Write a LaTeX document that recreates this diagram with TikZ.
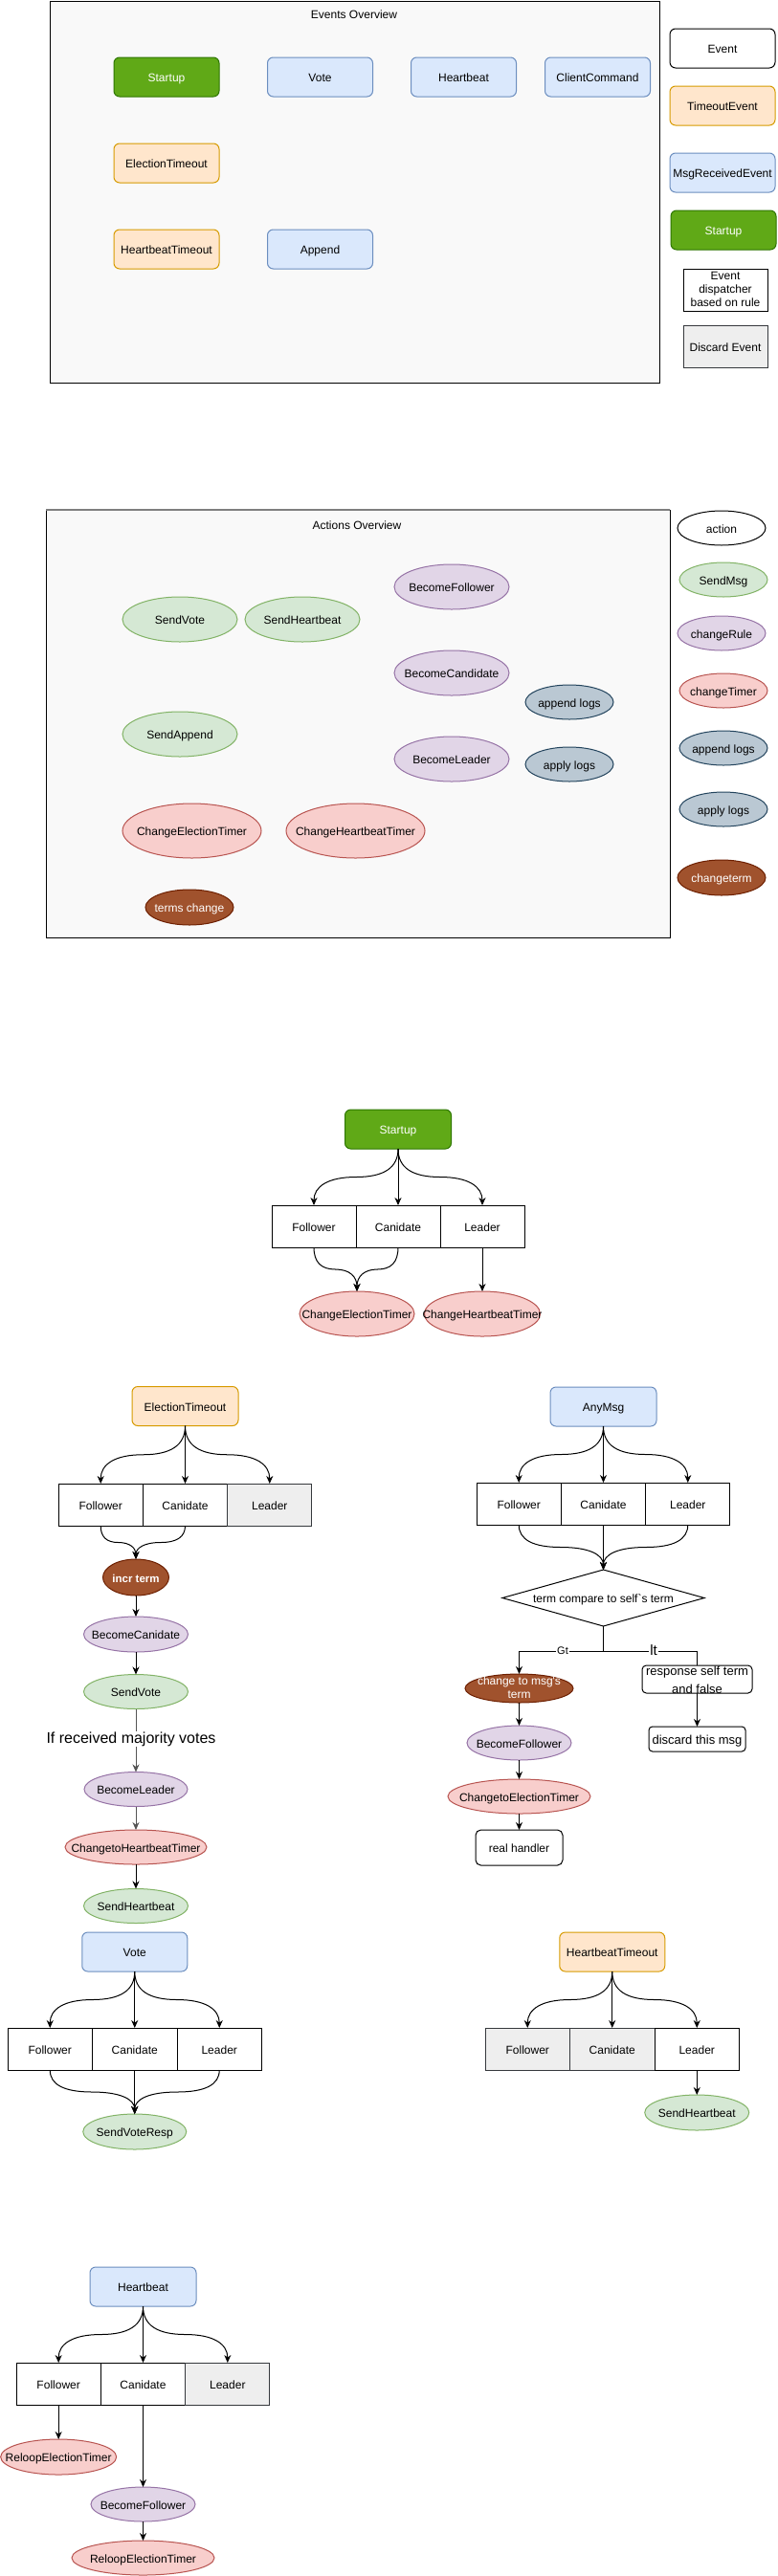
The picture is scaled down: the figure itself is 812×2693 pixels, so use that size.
\documentclass[tikz,border=0pt]{standalone}
\usepackage{fontspec}
\setmainfont{Liberation Sans}
\usetikzlibrary{shapes.geometric,arrows.meta,calc}
\definecolor{fiGreen}{HTML}{60A917}\definecolor{stGreen}{HTML}{2D7600}
\definecolor{fiBlue}{HTML}{DAE8FC}\definecolor{stBlue}{HTML}{6C8EBF}
\definecolor{fiOrange}{HTML}{FFE6CC}\definecolor{stOrange}{HTML}{D79B00}
\definecolor{fiLGreen}{HTML}{D5E8D4}\definecolor{stLGreen}{HTML}{82B366}
\definecolor{fiPurple}{HTML}{E1D5E7}\definecolor{stPurple}{HTML}{9673A6}
\definecolor{fiRed}{HTML}{F8CECC}\definecolor{stRed}{HTML}{B85450}
\definecolor{fiSlate}{HTML}{BAC8D3}\definecolor{stSlate}{HTML}{23445D}
\definecolor{fiBrown}{HTML}{A0522D}\definecolor{stBrown}{HTML}{6D1F00}
\definecolor{fiGray}{HTML}{EEEEEE}\definecolor{stGray}{HTML}{36393D}
\definecolor{fiFrame}{HTML}{F9F9F9}
\definecolor{lnGray}{HTML}{555555}
\definecolor{topGray}{HTML}{7F7F7F}
\newcommand\fsz[2]{\fontsize{#1}{#2}\selectfont}
\newcommand\zw[1]{\makebox[0pt]{#1}}
\newcommand\ml[3]{\makebox[0pt]{\raisebox{#1}[0pt][0pt]{#2\begin{tabular}{@{}c@{}}#3\end{tabular}}}}
\newcommand\cv[3][]{%
  \path (#2) coordinate (cvS) (#3) coordinate (cvT);
  \path ($(cvS)!.5!(cvT)$) coordinate (cvM);
  \draw[arr,#1] (cvS) .. controls ($(cvS)!2/3!(cvS|-cvM)$) and ($(cvM)!2/3!(cvS|-cvM)$) .. (cvM)
     .. controls ($(cvM)!2/3!(cvT|-cvM)$) and ($(cvT)!2/3!(cvT|-cvM)$) .. (cvT);}
\tikzset{
  nb0/.style={inner sep=0pt, outer sep=0pt, line width=1pt, font=\fsz{12}{14}},
  nb/.style={nb0, text height=10pt, text depth=0pt},
  sz/.style 2 args={minimum width=#1, minimum height=#2},
  rr/.style={nb, rectangle, rounded corners=6pt, sz={110}{41}},
  evGreen/.style={rr, draw=stGreen, fill=fiGreen, text=white},
  evBlue/.style={rr, draw=stBlue, fill=fiBlue},
  evOrange/.style={rr, draw=stOrange, fill=fiOrange},
  evWhite/.style={rr, draw=black, fill=white},
  elbase/.style={nb, ellipse},
  acGreen/.style={elbase, draw=stLGreen, fill=fiLGreen},
  acPurple/.style={elbase, draw=stPurple, fill=fiPurple},
  acRed/.style={elbase, draw=stRed, fill=fiRed},
  acSlate/.style={elbase, draw=stSlate, fill=fiSlate},
  acBrown/.style={elbase, draw=stBrown, fill=fiBrown, text=white},
  acWhite/.style={elbase, draw=black, fill=white},
  cellW/.style={nb, rectangle, draw=black, fill=white, sz={88.33}{44}},
  cellG/.style={cellW, draw=stGray, fill=fiGray},
  wbox/.style={nb, rectangle, draw=black, fill=white},
  panel/.style={nb0, rectangle, draw=black, fill=fiFrame},
  lblW/.style={fill=white, inner sep=1pt, outer sep=0pt},
  plain/.style={line width=1pt, draw=black},
  arr/.style={line width=1pt, draw=black, -{Stealth[length=8pt,width=7pt,inset=2.5pt]}},
}
\begin{document}
\begin{tikzpicture}[x=1pt,y=-1pt]
\useasboundingbox (0,0) rectangle (812,2693);
\fill[white] (0,0) rectangle (812,2693);

% ---------------- Events overview
\node[panel, sz={637}{399}] (evFrame) at (370.5,200.5) {};
\node[nb] (evTitle) at (370,14) {Events Overview};
\node[evGreen] (evStartup) at (174,80.5) {Startup};
\node[evBlue] (evVote) at (334.5,80.5) {Vote};
\node[evBlue] (evHeartbeat) at (484.5,80.5) {Heartbeat};
\node[evBlue] (evClient) at (624.5,80.5) {ClientCommand};
\node[evOrange] (evElection) at (174,170.5) {ElectionTimeout};
\node[evOrange] (evHBTimeout) at (174,260.5) {HeartbeatTimeout};
\node[evBlue] (evAppend) at (334.5,260.5) {Append};
\node[evWhite] (lgEvent) at (755,50.5) {Event};
\node[evOrange] (lgTimeout) at (755,110.5) {TimeoutEvent};
\node[evBlue] (lgMsg) at (755,180.5) {MsgReceivedEvent};
\node[evGreen] (lgStartup) at (756,240.5) {Startup};
\node[nb0, rectangle, draw=black, fill=white, sz={88}{44}] (lgDispatch) at (758,303) {\ml{-3.3pt}{\fsz{12}{14}}{Event\\dispatcher\\based on rule}};
\node[nb, rectangle, draw=stGray, fill=fiGray, sz={88}{44}] (lgDiscard) at (758,362) {Discard Event};

% ---------------- Actions overview
\node[panel, sz={652}{447}] (acFrame) at (374,756.5) {};
\draw[draw=topGray, line width=1.5pt] (acFrame.north west) -- (acFrame.north east);
\node[nb] (acTitle) at (373,548) {Actions Overview};
\node[acPurple, sz={120}{47}] (acBF) at (472,613.5) {\zw{BecomeFollower}};
\node[acGreen, sz={120}{47}] (acSV) at (188,647.5) {\zw{SendVote}};
\node[acGreen, sz={120}{47}] (acSH) at (316,647.5) {\zw{SendHeartbeat}};
\node[acPurple, sz={120}{47}] (acBC) at (472,703.5) {\zw{BecomeCandidate}};
\node[acSlate, sz={92}{36}] (acAL) at (595,734) {\zw{append logs}};
\node[acGreen, sz={120}{47}] (acSA) at (188,767.5) {\zw{SendAppend}};
\node[acPurple, sz={120}{47}] (acBL) at (472,793.5) {\zw{BecomeLeader}};
\node[acSlate, sz={92}{36}] (acAP) at (595,799) {\zw{apply logs}};
\node[acRed, sz={145}{57}] (acCET) at (200.5,868.5) {\zw{ChangeElectionTimer}};
\node[acRed, sz={145}{57}] (acCHT) at (371.5,868.5) {\zw{ChangeHeartbeatTimer}};
\node[acBrown, sz={92}{37}] (acTC) at (198,948.5) {\zw{terms change}};
\node[acWhite, sz={92}{36}] (laAction) at (754,552) {\zw{action}};
\node[acGreen, sz={92}{36}] (laSend) at (756,606) {\zw{SendMsg}};
\node[acPurple, sz={92}{36}] (laRule) at (754,662) {\zw{changeRule}};
\node[acRed, sz={92}{36}] (laTimer) at (756,722) {\zw{changeTimer}};
\node[acSlate, sz={92}{36}] (laAppend) at (756,782) {\zw{append logs}};
\node[acSlate, sz={92}{36}] (laApply) at (756,846) {\zw{apply logs}};
\node[acBrown, sz={92}{37}] (laTerm) at (754,917.5) {\zw{changeterm}};

% ---------------- Startup flow
\node[evGreen, sz={111}{41}] (suStart) at (416,1180.5) {Startup};
\node[cellW, sz={88}{44}] (suF) at (328,1282) {Follower};
\node[cellW, sz={88}{44}] (suC) at (416,1282) {Canidate};
\node[cellW, sz={88}{44}] (suL) at (504,1282) {Leader};
\node[acRed, sz={120}{47}] (suCET) at (373,1373.5) {\zw{ChangeElectionTimer}};
\node[acRed, sz={121}{47}] (suCHT) at (504,1373.5) {\zw{ChangeHeartbeatTimer}};
\cv{suStart.south}{suF.north}
\draw[arr] (suStart.south) -- (suC.north);
\cv{suStart.south}{suL.north}
\cv{suF.south}{suCET.north}
\cv{suC.south}{suCET.north}
\draw[arr] (suL.south) -- (suCHT.north);

% ---------------- ElectionTimeout flow
\node[evOrange, sz={111}{41}] (etTop) at (193.5,1470) {ElectionTimeout};
\node[cellW] (etF) at (105.2,1573) {Follower};
\node[cellW] (etC) at (193.5,1573) {Canidate};
\node[cellG] (etL) at (281.8,1573) {Leader};
\node[acBrown, sz={69}{38}, font=\fsz{11.5}{14}\bfseries] (etIncr) at (142,1649) {\zw{incr term}};
\node[acPurple, sz={109}{37}] (etBC) at (142,1708.5) {\zw{BecomeCanidate}};
\node[acGreen, sz={109}{36}] (etSV) at (142,1768.5) {\zw{SendVote}};
\node[acPurple, sz={108}{36}] (etBL) at (142,1870.5) {\zw{BecomeLeader}};
\node[acRed, sz={148}{36}] (etCHT) at (142,1931) {\zw{ChangetoHeartbeatTimer}};
\node[acGreen, sz={109}{36}] (etSH) at (142,1992.5) {\zw{SendHeartbeat}};
\cv{etTop.south}{etF.north}
\draw[arr] (etTop.south) -- (etC.north);
\cv{etTop.south}{etL.north}
\cv{etF.south}{etIncr.north}
\cv{etC.south}{etIncr.north}
\draw[arr] (etIncr.south) -- (etBC.north);
\draw[arr] (etBC.south) -- (etSV.north);
\draw[arr, draw=lnGray] (etSV.south) -- (etBL.north);
\node[lblW, font=\fsz{16}{19}] (etMaj) at (137,1818) {If received majority votes};
\draw[arr, draw=lnGray] (etBL.south) -- (etCHT.north);
\draw[arr] (etCHT.south) -- (etSH.north);

% ---------------- AnyMsg flow
\node[evBlue, sz={111}{41}] (amTop) at (630.5,1470.5) {AnyMsg};
\node[cellW] (amF) at (542.2,1572) {Follower};
\node[cellW] (amC) at (630.5,1572) {Canidate};
\node[cellW] (amL) at (718.8,1572) {Leader};
\node[nb, diamond, draw=black, fill=white, sz={211}{59}] (amD) at (630.5,1670.5) {\zw{term compare to self\textasciigrave s term}};
\coordinate (amSplit) at (630.5,1726);
\node[acBrown, text height=0pt, sz={113}{30}] (amGt) at (542.5,1765) {\ml{-4pt}{\fsz{12}{14}}{change to msg\textquotesingle s\\term}};
\node[acPurple, sz={109}{36}] (amBF) at (542.5,1822) {\zw{BecomeFollower}};
\node[acRed, sz={149}{36}] (amCET) at (542.5,1878) {\zw{ChangetoElectionTimer}};
\node[wbox, rounded corners=5.5pt, sz={91}{37}] (amReal) at (542.5,1931.5) {real handler};
\node[wbox, rounded corners=3.8pt, sz={101}{26}, font=\fsz{13}{16}] (amDisc) at (728.5,1818) {discard this msg};
\cv{amTop.south}{amF.north}
\draw[arr] (amTop.south) -- (amC.north);
\cv{amTop.south}{amL.north}
\cv{amF.south}{amD.north}
\draw[arr] (amC.south) -- (amD.north);
\cv{amL.south}{amD.north}
\draw[plain] (amD.south) -- (amSplit);
\draw[arr] (amSplit) -| (amGt.north);
\draw[arr] (amSplit) -| (amDisc.north);
\node[nb0, rectangle, rounded corners=4.4pt, draw=black, fill=white, sz={115}{29}] (amResp) at (728.5,1755.5) {\ml{-4.35pt}{\fsz{13}{19}}{response self term\\and false}};
\node[lblW, font=\fsz{11}{13}] (amGtLbl) at (588,1726) {Gt};
\node[lblW, font=\fsz{15}{18}] (amLtLbl) at (683,1725) {lt};
\draw[arr] (amGt.south) -- (amBF.north);
\draw[arr] (amBF.south) -- (amCET.north);
\draw[arr] (amCET.south) -- (amReal.north);

% ---------------- Vote flow
\node[evBlue, sz={110}{41}] (voTop) at (140.75,2040.5) {Vote};
\node[cellW, sz={88.5}{44}] (voF) at (52.25,2142) {Follower};
\node[cellW, sz={88.5}{44}] (voC) at (140.75,2142) {Canidate};
\node[cellW, sz={88.5}{44}] (voL) at (229.25,2142) {Leader};
\node[acGreen, sz={108}{37}] (voResp) at (140.75,2228.5) {\zw{SendVoteResp}};
\cv{voTop.south}{voF.north}
\draw[arr] (voTop.south) -- (voC.north);
\cv{voTop.south}{voL.north}
\cv{voF.south}{voResp.north}
\draw[arr] (voC.south) -- (voResp.north);
\cv{voL.south}{voResp.north}

% ---------------- HeartbeatTimeout flow
\node[evOrange, sz={110}{41}] (htTop) at (639.75,2040.5) {HeartbeatTimeout};
\node[cellG, sz={88.5}{44}] (htF) at (551.25,2142) {Follower};
\node[cellG, sz={88.5}{44}] (htC) at (639.75,2142) {Canidate};
\node[cellW, sz={88.5}{44}] (htL) at (728.25,2142) {Leader};
\node[acGreen, sz={109}{37}] (htSH) at (728.25,2208.5) {\zw{SendHeartbeat}};
\cv{htTop.south}{htF.north}
\draw[arr] (htTop.south) -- (htC.north);
\cv{htTop.south}{htL.north}
\draw[arr] (htL.south) -- (htSH.north);

% ---------------- Heartbeat flow
\node[evBlue, sz={111}{41}] (hbTop) at (149.5,2390.5) {Heartbeat};
\node[cellW] (hbF) at (61.17,2492) {Follower};
\node[cellW] (hbC) at (149.5,2492) {Canidate};
\node[cellG] (hbL) at (237.83,2492) {Leader};
\node[acRed, sz={121}{37}] (hbR1) at (61.17,2568.5) {\zw{ReloopElectionTimer}};
\node[acPurple, sz={109}{36}] (hbBF) at (149.5,2618) {\zw{BecomeFollower}};
\node[acRed, sz={149}{36}] (hbR2) at (149.5,2674) {\zw{ReloopElectionTimer}};
\cv{hbTop.south}{hbF.north}
\draw[arr] (hbTop.south) -- (hbC.north);
\cv{hbTop.south}{hbL.north}
\draw[arr] (hbF.south) -- (hbR1.north);
\draw[arr] (hbC.south) -- (hbBF.north);
\draw[arr] (hbBF.south) -- (hbR2.north);
\end{tikzpicture}
\end{document}
